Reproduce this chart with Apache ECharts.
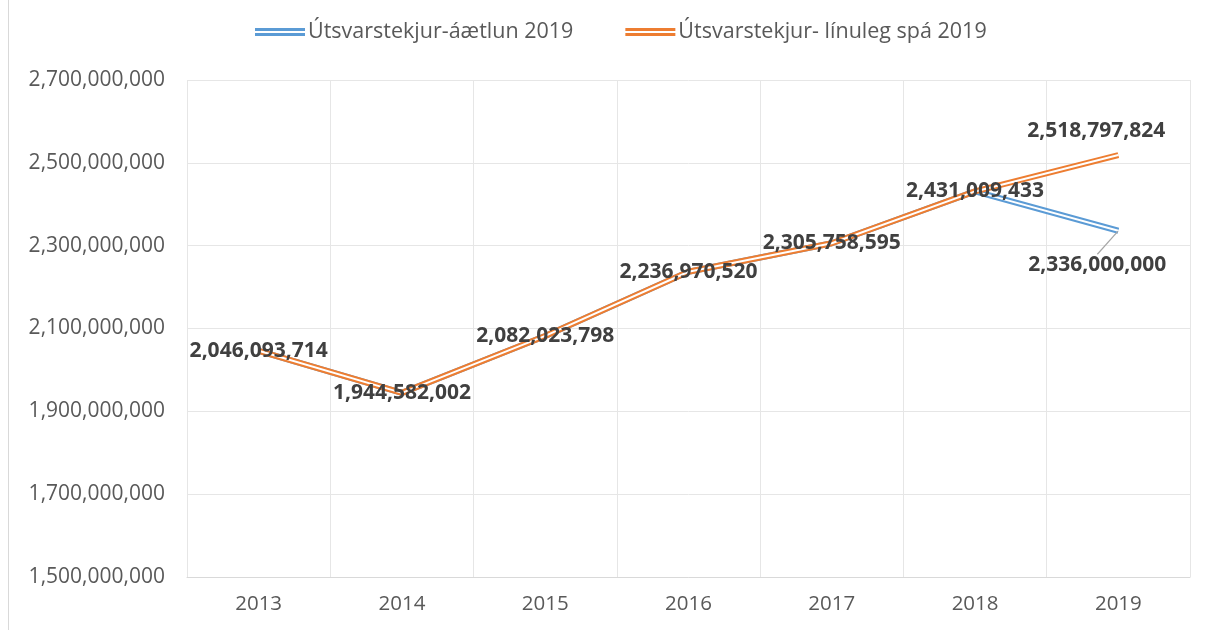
<!DOCTYPE html>
<html>
<head>
<meta charset="utf-8">
<script src="https://cdn.jsdelivr.net/npm/echarts@6/dist/echarts.min.js"></script>
<style>
  html, body { margin: 0; padding: 0; background: #fff; }
  #chart { width: 1208px; height: 630px; }
</style>
</head>
<body>
<div id="chart"></div>
<script>
var years = ["2013", "2014", "2015", "2016", "2017", "2018", "2019"];
var aetlun = [2046093714, 1944582002, 2082023798, 2236970520, 2305758595, 2431009433, 2336000000];
var spa = [2046093714, 1944582002, 2082023798, 2236970520, 2305758595, 2431009433, 2518797824];
var names = ["Útsvarstekjur-áætlun 2019", "Útsvarstekjur- línuleg spá 2019"];

var blue = "#5B9BD5";
var orange = "#ED7D31";
var txt = "#595959";
var fontFam = "'Open Sans', sans-serif";

function fmt(v) {
  return Math.round(v).toString().replace(/\B(?=(\d{3})+(?!\d))/g, ",");
}

var labelStyle = {
  fontFamily: fontFam,
  fontSize: 21,
  fontWeight: "bold",
  color: "#404040",
};

var chart = echarts.init(document.getElementById("chart"));
var option;

// orange labels: centered on points, last one moved up-left
var spaData = spa.map(function (v, i) {
  if (i == spa.length - 1) {
    return { value: v, label: { show: true, position: "top", offset: [-22, -8] } };
  }
  return { value: v, label: { show: true, position: "inside" } };
});
// blue only labels the 2019 value
var aetlunData = aetlun.map(function (v, i) {
  if (i == aetlun.length - 1) {
    return { value: v, label: { show: true, position: "bottom" } };
  }
  return { value: v };
});

option = {
  animation: false,
  backgroundColor: "#fff",
  grid: { left: 187, right: 18, top: 80, bottom: 53 },
  legend: {
    data: names,
    top: 16,
    left: 250,
    itemGap: 52,
    itemWidth: 50,
    itemHeight: 8,
    icon: "path://M0,0H50V3H0Z M0,5H50V8H0Z",
    textStyle: { fontFamily: fontFam, fontSize: 21.5, color: txt, padding: [0, 0, 0, -2] },
  },
  xAxis: {
    type: "category",
    data: years,
    boundaryGap: true,
    axisLine: { lineStyle: { color: "#d9d9d9" } },
    axisTick: { show: false },
    axisLabel: { fontFamily: fontFam, fontSize: 20.5, color: txt, margin: 17 },
    splitLine: { show: true, lineStyle: { color: "#e6e6e6" } },
  },
  yAxis: {
    type: "value",
    min: 1500000000,
    max: 2700000000,
    interval: 200000000,
    axisLine: { show: false },
    axisTick: { show: false },
    axisLabel: {
      fontFamily: fontFam,
      fontSize: 21,
      color: txt,
      margin: 22,
      formatter: fmt,
    },
    splitLine: { lineStyle: { color: "#e6e6e6" } },
  },
  graphic: [
    {
      type: "line",
      shape: { x1: 8.5, y1: 0, x2: 8.5, y2: 630 },
      style: { stroke: "#d9d9d9", lineWidth: 1 },
    },
  ],
  series: [
    {
      name: names[0],
      type: "line",
      data: aetlun,
      symbol: "none",
      itemStyle: { color: blue },
      lineStyle: { color: blue, width: 6 },
      z: 2,
    },
    {
      name: "blue-inner",
      type: "line",
      data: aetlunData,
      symbol: "circle",
      symbolSize: 1,
      itemStyle: { color: "#fff" },
      lineStyle: { color: "#fff", width: 2 },
      label: Object.assign({ show: false, formatter: function (p) { return fmt(p.value); } }, labelStyle),
      labelLayout: { dx: -21, dy: 18 },
      labelLine: { show: true, lineStyle: { color: "#a6a6a6", width: 1.2 } },
      z: 3,
    },
    {
      name: names[1],
      type: "line",
      data: spa,
      symbol: "none",
      itemStyle: { color: orange },
      lineStyle: { color: orange, width: 6 },
      z: 4,
    },
    {
      name: "orange-inner",
      type: "line",
      data: spaData,
      symbol: "circle",
      symbolSize: 1,
      itemStyle: { color: "#fff" },
      lineStyle: { color: "#fff", width: 2 },
      label: Object.assign({ show: false, formatter: function (p) { return fmt(p.value); } }, labelStyle),
      z: 5,
    },
  ],
};

option && chart.setOption(option);
</script>
</body>
</html>
